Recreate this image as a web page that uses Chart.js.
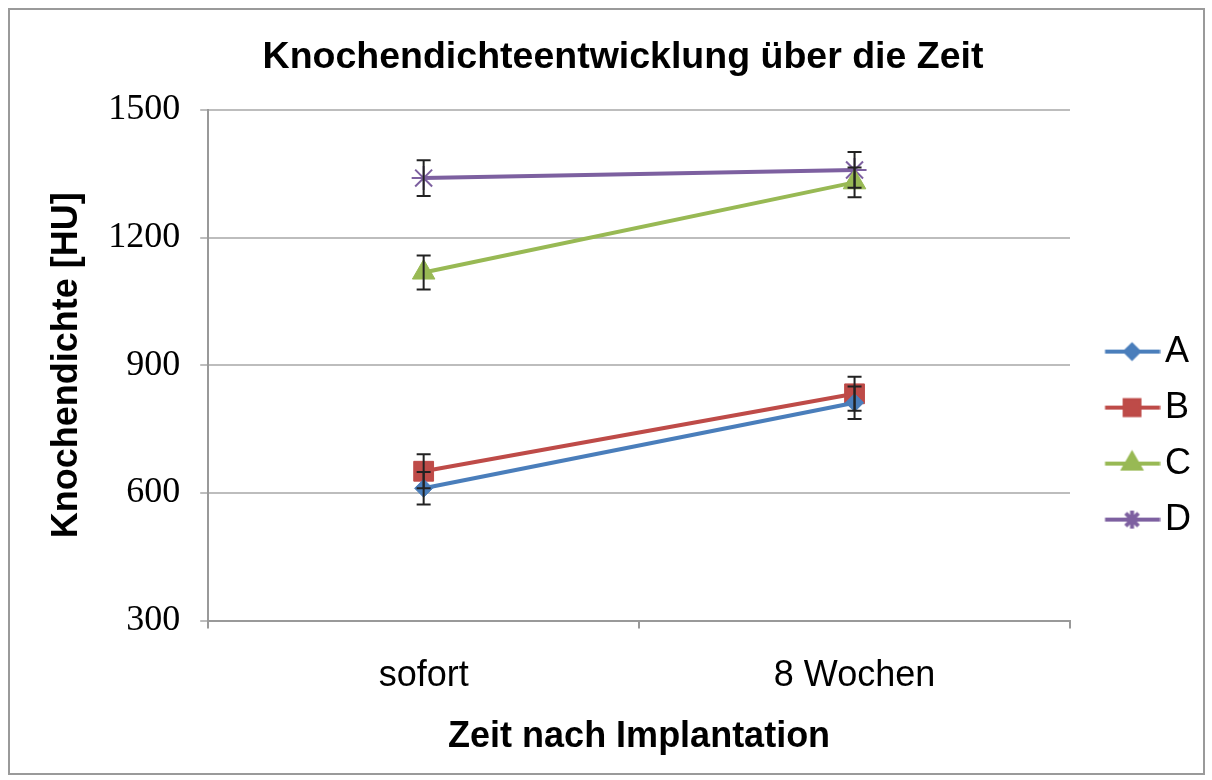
<!DOCTYPE html>
<html>
<head>
<meta charset="utf-8">
<script src="https://cdn.jsdelivr.net/npm/chart.js@4/dist/chart.umd.min.js"></script>
<style>
  body { margin: 0; background: #fff; }
  #wrap { position: relative; width: 1212px; height: 780px; }
</style>
</head>
<body>
<div id="wrap"><canvas id="chart"></canvas></div>
<script>
// data
var labels = ["sofort", "8 Wochen"];
var seriesNames = ["A", "B", "C", "D"];
var valuesA = [611, 812];
var valuesB = [651, 833];
var valuesC = [1118, 1330];
var valuesD = [1340, 1359];
var errA = [38, 38];
var errB = [40, 40];
var errC = [40, 35];
var errD = [42, 42];
var yTicks = [300, 600, 900, 1200, 1500];

var colors = ["#4a7ebb", "#be4b48", "#98b954", "#7d60a0"];
var markers = ["rectRot", "rect", "triangle", "star"];
var markerSizes = [9, 14, 13, 12];

// legend symbol: short line with the marker in the middle
// (transparent left margin so the line sits where the original one is)
function legendIcon(i) {
  var c = document.createElement("canvas");
  c.width = 84;
  c.height = 30;
  var ctx = c.getContext("2d");
  ctx.strokeStyle = colors[i];
  ctx.fillStyle = colors[i];
  ctx.lineWidth = 4;
  ctx.beginPath();
  ctx.moveTo(28.5, 15);
  ctx.lineTo(83.5, 15);
  ctx.stroke();
  Chart.helpers.drawPoint(ctx, {
    pointStyle: markers[i],
    radius: markerSizes[i] * 0.75,
    rotation: 0,
    borderWidth: 2
  }, 55.5, 15);
  if (markers[i] != "star") ctx.fill();
  return c;
}

var errorBars = {
  id: "errorBars",
  afterDatasetsDraw: function (chart) {
    var ctx = chart.ctx;
    var y = chart.scales.y;
    ctx.save();
    ctx.strokeStyle = "#222";
    ctx.lineWidth = 2;
    chart.data.datasets.forEach(function (ds, di) {
      var meta = chart.getDatasetMeta(di);
      meta.data.forEach(function (pt, i) {
        var top = y.getPixelForValue(ds.data[i] + ds.err[i]);
        var bot = y.getPixelForValue(ds.data[i] - ds.err[i]);
        ctx.beginPath();
        ctx.moveTo(pt.x, top);
        ctx.lineTo(pt.x, bot);
        ctx.moveTo(pt.x - 7, top);
        ctx.lineTo(pt.x + 7, top);
        ctx.moveTo(pt.x - 7, bot);
        ctx.lineTo(pt.x + 7, bot);
        ctx.stroke();
      });
    });
    ctx.restore();
  }
};

var frame = {
  id: "frame",
  beforeDraw: function (chart) {
    var ctx = chart.ctx;
    ctx.save();
    ctx.fillStyle = "#fff";
    ctx.fillRect(0, 0, chart.width, chart.height);
    ctx.strokeStyle = "#9a9a9a";
    ctx.lineWidth = 2;
    ctx.strokeRect(9, 9, 1195, 765);
    ctx.restore();
  }
};

var allValues = [valuesA, valuesB, valuesC, valuesD];
var allErr = [errA, errB, errC, errD];

var datasets = seriesNames.map(function (name, i) {
  return {
    label: name,
    data: allValues[i],
    err: allErr[i],
    borderColor: colors[i],
    backgroundColor: colors[i],
    borderWidth: 4,
    pointStyle: markers[i],
    pointRadius: markerSizes[i],
    pointBorderWidth: markers[i] == "star" ? 2 : 1,
    pointBackgroundColor: colors[i],
    pointBorderColor: colors[i]
  };
});

var ctx = document.getElementById("chart").getContext("2d");
var chart = new Chart(ctx, {
  type: "line",
  data: { labels: labels, datasets: datasets },
  plugins: [frame, errorBars],
  options: {
    responsive: true,
    maintainAspectRatio: false,
    animation: false,
    layout: { padding: { top: 35, left: 45, right: 11, bottom: 21 } },
    plugins: {
      title: {
        display: true,
        text: "Knochendichteentwicklung über die Zeit",
        color: "#000",
        font: { family: "Liberation Sans", size: 37.5, weight: "bold" },
        padding: { top: 0, bottom: 30 }
      },
      legend: {
        position: "right",
        title: {
          display: true,
          text: " ",
          font: { size: 1 },
          padding: { top: 0, bottom: 76 }
        },
        labels: {
          color: "#000",
          font: { family: "Liberation Sans", size: 36 },
          usePointStyle: true,
          pointStyleWidth: 57,
          padding: 20,
          generateLabels: function (chart) {
            return chart.data.datasets.map(function (ds, i) {
              return {
                text: ds.label,
                pointStyle: legendIcon(i),
                fillStyle: colors[i],
                strokeStyle: colors[i],
                fontColor: "#000",
                datasetIndex: i
              };
            });
          }
        }
      },
      tooltip: { enabled: false }
    },
    scales: {
      x: {
        offset: true,
        grid: {
          offset: true,
          drawOnChartArea: false,
          drawTicks: true,
          tickLength: 8,
          color: "#999",
          lineWidth: 2
        },
        border: { color: "#999", width: 2 },
        ticks: {
          color: "#000",
          padding: 26,
          font: { family: "Liberation Sans", size: 36 }
        },
        title: {
          display: true,
          text: "Zeit nach Implantation",
          color: "#000",
          font: { family: "Liberation Sans", size: 36, weight: "bold" },
          padding: { top: -8, bottom: 0 }
        }
      },
      y: {
        min: 300,
        max: 1500,
        afterBuildTicks: function (axis) {
          axis.ticks = yTicks.map(function (v) { return { value: v }; });
        },
        grid: {
          color: "#bdbdbd",
          lineWidth: 2,
          tickLength: 8
        },
        border: { color: "#999", width: 2 },
        ticks: {
          color: "#000",
          padding: 20,
          font: { family: "Liberation Serif", size: 36 },
          callback: function (v) { return String(v); }
        },
        title: {
          display: true,
          text: "Knochendichte [HU]",
          color: "#000",
          font: { family: "Liberation Sans", size: 36, weight: "bold" },
          padding: { top: 0, bottom: 0 }
        }
      }
    }
  }
});
</script>
</body>
</html>
